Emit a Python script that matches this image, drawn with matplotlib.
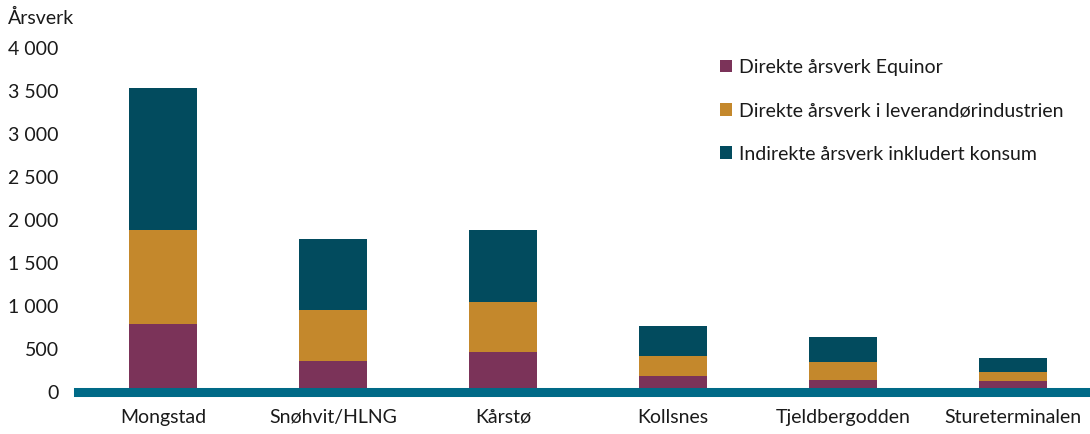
import matplotlib
matplotlib.use("Agg")
import matplotlib.pyplot as plt
import numpy as np

categories = ["Mongstad", "Snøhvit/HLNG", "Kårstø", "Kollsnes", "Tjeldbergodden", "Stureterminalen"]
direkte_equinor = [796, 356, 460, 182, 139, 131]
direkte_leverandor = [1090, 598, 587, 239, 205, 105]
indirekte = [1647, 828, 839, 348, 290, 158]
series_labels = ["Direkte årsverk Equinor",
                 "Direkte årsverk i leverandørindustrien",
                 "Indirekte årsverk inkludert konsum"]
yticks = [0, 500, 1000, 1500, 2000, 2500, 3000, 3500, 4000]
ytick_labels = ["0", "500", "1 000", "1 500", "2 000", "2 500", "3 000", "3 500", "4 000"]

colors = ["#7B3359", "#C4882C", "#024B5E"]
axis_color = "#006A87"
text_color = "#1a1a1a"

plt.rcParams['font.family'] = ['Lato', 'DejaVu Sans']
FS = 14

W, H = 1090, 434
fig = plt.figure(figsize=(W / 100, H / 100), dpi=100)
ax = fig.add_axes([78 / W, 42 / H, 1020 / W, 344 / H])

x = np.arange(len(categories))
bw = 0.4
b1 = ax.bar(x, direkte_equinor, bw, color=colors[0], label=series_labels[0], zorder=2)
bottom2 = np.array(direkte_equinor)
b2 = ax.bar(x, direkte_leverandor, bw, bottom=bottom2, color=colors[1], label=series_labels[1], zorder=2)
bottom3 = bottom2 + np.array(direkte_leverandor)
b3 = ax.bar(x, indirekte, bw, bottom=bottom3, color=colors[2], label=series_labels[2], zorder=2)

ax.set_xlim(-0.5, 5.5)
ax.set_ylim(0, 4000)
ax.axhline(0, color=axis_color, linewidth=6.5, zorder=3, clip_on=False)

for s in ax.spines.values():
    s.set_visible(False)

ax.set_yticks(yticks)
ax.set_yticklabels(ytick_labels)
ax.set_xticks(x)
ax.set_xticklabels(categories)
ax.tick_params(axis='both', length=0, labelsize=FS, colors=text_color)
ax.tick_params(axis='y', pad=14)
ax.tick_params(axis='x', pad=12)

fig.text(8 / W, 1 - 18 / H, "Årsverk", fontsize=FS, color=text_color, va='center', ha='left')

leg = ax.legend(handles=[b1, b2, b3], loc='upper left',
                bbox_to_anchor=(720 / W, 1 - 59 / H), bbox_transform=fig.transFigure,
                frameon=False, fontsize=FS, handlelength=0.6, handleheight=0.6,
                handletextpad=0.4, labelspacing=1.35, borderaxespad=0, borderpad=0)
for t in leg.get_texts():
    t.set_color(text_color)

fig.savefig("out.png", dpi=100)
